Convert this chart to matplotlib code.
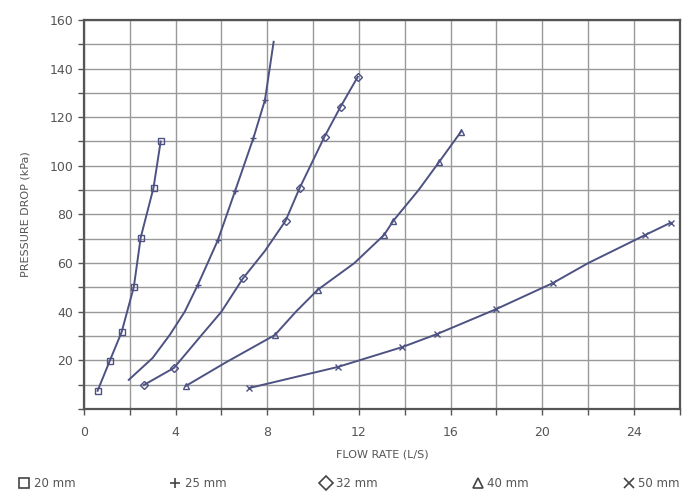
import matplotlib
matplotlib.use("Agg")
import matplotlib.pyplot as plt
from matplotlib.lines import Line2D
import numpy as np

# Data (flow rate L/s, pressure drop kPa)
x20 = [0.6, 1.13, 1.65, 2.18, 2.48, 3.04, 3.35]
y20 = [7.5, 19.8, 31.7, 50.2, 70.5, 91, 110]
m20 = [0, 1, 2, 3, 4, 5, 6]

x25 = [1.96, 3.0, 3.75, 4.4, 4.97, 5.4, 5.85, 6.6, 7.4, 7.9, 8.28]
y25 = [12, 21, 30.5, 40, 51, 60, 69.5, 89.7, 111.5, 127, 151]
m25 = [4, 6, 7, 8, 9]

x32 = [2.62, 3.93, 5.1, 6.0, 6.94, 7.9, 8.8, 9.42, 10.5, 11.2, 11.95]
y32 = [9.9, 16.9, 30, 40, 53.7, 65, 77.4, 91, 112, 124.3, 136.6]
m32 = [0, 1, 4, 6, 7, 8, 9, 10]

x40 = [4.45, 6.2, 8.33, 9.25, 10.2, 11.8, 13.1, 13.5, 14.6, 15.5, 16.45]
y40 = [9.5, 19.2, 30.4, 40, 49, 60, 71.6, 77.4, 90, 101.6, 114]
m40 = [0, 2, 4, 6, 7, 9, 10]

x50 = [7.2, 11.08, 13.9, 15.4, 17.97, 20.46, 22.0, 24.5, 25.6]
y50 = [8.6, 17.3, 25.5, 30.8, 41, 51.8, 60, 71.6, 76.6]
m50 = [0, 1, 2, 3, 4, 5, 7, 8]

legend_labels = ["20 mm", "25 mm", "32 mm", "40 mm", "50 mm"]
legend_markers = ["s", "+", "D", "^", "x"]

line_color = "#4d5282"
grid_color = "#999999"
text_color = "#555555"

fig = plt.figure(figsize=(6.93, 4.97), dpi=100)
ax = fig.add_axes([0.121, 0.177, 0.860, 0.783])

series = [(x20, y20, m20, "s"), (x25, y25, m25, "+"), (x32, y32, m32, "D"),
          (x40, y40, m40, "^"), (x50, y50, m50, "x")]
for xs, ys, mk, marker in series:
    ax.plot(xs, ys, color=line_color, lw=1.4, marker=marker, markevery=mk,
            markersize=4, markerfacecolor="none", markeredgecolor=line_color,
            markeredgewidth=1.0, zorder=3)

ax.set_xlim(0, 26)
ax.set_ylim(0, 160)
ax.set_xticks(np.arange(0, 25, 4))
ax.set_xticks(np.arange(0, 27, 2), minor=True)
ax.set_yticks(np.arange(20, 161, 20))
ax.set_yticks(np.arange(0, 161, 10), minor=True)
ax.grid(True, which="both", color=grid_color, lw=1.0, zorder=0)
ax.set_axisbelow(True)

for s in ax.spines.values():
    s.set_color("#555555")
    s.set_linewidth(1.6)

ax.tick_params(axis="both", which="both", colors="#555555", labelcolor=text_color,
               labelsize=9, length=4, width=1.0, direction="out")
ax.tick_params(axis="x", pad=8)

ax.set_xlabel("FLOW RATE (L/S)", color=text_color, fontsize=8, labelpad=8)
ax.set_ylabel("PRESSURE DROP (kPa)", color=text_color, fontsize=8, labelpad=14)

handles = [Line2D([], [], ls="none", marker=m, markersize=7, markerfacecolor="none",
                  markeredgecolor="#444444", markeredgewidth=1.2) for m in legend_markers]
leg = fig.legend(handles, legend_labels, loc="lower left", ncol=5,
                 bbox_to_anchor=(0.016, 0.0, 0.975, 0.06), mode="expand",
                 frameon=False, fontsize=8.5, handletextpad=0.3, borderaxespad=0.2,
                 handlelength=1.0)
for t in leg.get_texts():
    t.set_color(text_color)

fig.savefig("out.png", dpi=100, facecolor="white")
